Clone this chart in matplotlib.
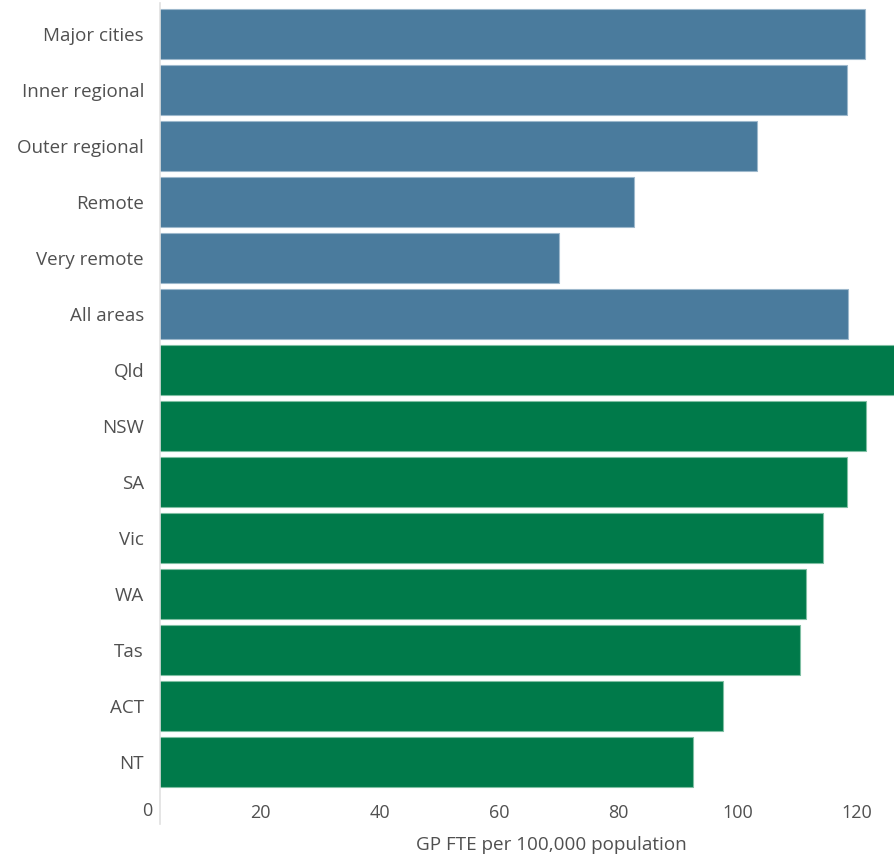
import matplotlib
matplotlib.use("Agg")
import matplotlib.pyplot as plt
from matplotlib.lines import Line2D

categories = ["Major cities", "Inner regional", "Outer regional", "Remote", "Very remote",
              "All areas", "Qld", "NSW", "SA", "Vic", "WA", "Tas", "ACT", "NT"]
values = [121.4, 118.4, 103.2, 82.6, 70.1, 118.6, 127.5, 121.6, 118.4, 114.3, 111.5, 110.4, 97.5, 92.6]
groups = ["remoteness"] * 6 + ["state"] * 8
tick_values = [20, 40, 60, 80, 100, 120]
x_label = "GP FTE per 100,000 population"

colors = {"remoteness": "#4A7B9D", "state": "#007A4A"}
edge = {"remoteness": "#9DB8CC", "state": "#7FBFA3"}

plt.rcParams['font.family'] = ['Open Sans', 'DejaVu Sans']
W, H = 895, 857
fig = plt.figure(figsize=(W / 100, H / 100), dpi=100)
ax = fig.add_axes([160 / W, 1 - 790 / H, (W - 160) / W, 784 / H])

y = list(range(len(categories)))
ax.barh(y, values, height=0.9, color=[colors[g] for g in groups],
        edgecolor=[edge[g] for g in groups], linewidth=0.8)
ax.set_ylim(len(categories) - 0.5, -0.5)
ax.set_xlim(3.14, 126.4)
ax.set_yticks(y)
ax.set_yticklabels(categories)
ax.set_xticks(tick_values)
ax.set_xticklabels([str(v) for v in tick_values])

for s in ["top", "right", "bottom", "left"]:
    ax.spines[s].set_visible(False)
ax.tick_params(axis="both", length=0, labelsize=13, colors="#505050")
ax.tick_params(axis="y", pad=11.5, labelsize=13.5)
ax.tick_params(axis="x", pad=10)

# vertical axis line extending down past the bars
ax.add_line(Line2D([0, 0], [1.004, -0.043], transform=ax.transAxes, color="#E0E0E0",
                   linewidth=1.2, clip_on=False))
# zero label left of the axis line
ax.text(-8 / 735, -21 / 784, "0", transform=ax.transAxes, ha="right", va="center",
        fontsize=13, color="#505050")

fig.text(551 / W, 1 - 845 / H, x_label, ha="center", va="center", fontsize=13.6, color="#505050")

fig.savefig("out.png", dpi=100)
